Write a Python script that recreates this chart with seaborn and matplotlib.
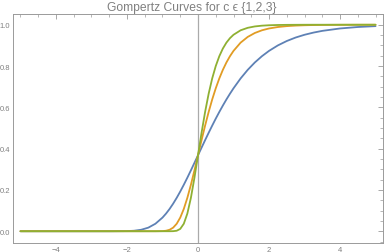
import matplotlib
matplotlib.use("Agg")
import matplotlib.pyplot as plt
from matplotlib.ticker import MultipleLocator, FuncFormatter
import seaborn as sns
import pandas as pd

x_vals = [-5, -4, -3, -2.5, -2, -1.8, -1.6, -1.4, -1.2, -1.0, -0.9, -0.8, -0.7, -0.6,
          -0.5, -0.4, -0.3, -0.2, -0.1, 0, 0.1, 0.2, 0.3, 0.4, 0.5, 0.6, 0.7, 0.8,
          0.9, 1.0, 1.2, 1.4, 1.6, 1.8, 2.0, 2.25, 2.5, 2.75, 3, 3.25, 3.5, 4, 4.5, 5]

y_c1 = [0, 0, 0, 0, 0.0006, 0.0024, 0.0071, 0.0173, 0.0362, 0.0660, 0.0855, 0.1080,
        0.1335, 0.1617, 0.1923, 0.2250, 0.2593, 0.2948, 0.3312, 0.3679, 0.4046, 0.4410,
        0.4767, 0.5115, 0.5453, 0.5776, 0.6086, 0.6381, 0.6659, 0.6922, 0.7400, 0.7815,
        0.8172, 0.8476, 0.8734, 0.9000, 0.9212, 0.9381, 0.9514, 0.9619, 0.9703, 0.9819,
        0.9890, 0.9933]

y_c2 = [0, 0, 0, 0, 0, 0, 0, 0, 0, 0.0006, 0.0024, 0.0071, 0.0173, 0.0362, 0.0660,
        0.1080, 0.1617, 0.2250, 0.2948, 0.3679, 0.4410, 0.5115, 0.5776, 0.6381, 0.6922,
        0.7400, 0.7815, 0.8172, 0.8476, 0.8734, 0.9133, 0.9410, 0.9600, 0.9731, 0.9819,
        0.9890, 0.9933, 0.9959, 0.9975, 0.9985, 0.9991, 0.9997, 0.9999, 1.0]

y_c3 = [0, 0, 0, 0, 0, 0, 0, 0, 0, 0, 0, 0, 0.0003, 0.0024, 0.0113, 0.0362, 0.0855,
        0.1617, 0.2593, 0.3679, 0.4767, 0.5776, 0.6659, 0.7400, 0.8000, 0.8476, 0.8847,
        0.9133, 0.9350, 0.9514, 0.9731, 0.9851, 0.9918, 0.9955, 0.9975, 0.9988, 0.9994,
        0.9997, 0.9999, 1.0, 1.0, 1.0, 1.0, 1.0]

c_labels = ["1", "2", "3"]
colors = ["#5E81B5", "#E19C24", "#8FB032"]

frames = []
for lab, ys in zip(c_labels, [y_c1, y_c2, y_c3]):
    frames.append(pd.DataFrame({"x": x_vals, "y": ys, "c": lab}))
df = pd.concat(frames, ignore_index=True)

sns.set_style("white")
plt.rcParams['font.family'] = ['Liberation Sans', 'DejaVu Sans']

fig = plt.figure(figsize=(3.84, 2.53), dpi=100)
ax = fig.add_axes([13/384, 1 - 244/253, 370/384, 229/253])

gray = "#9a9a9a"
ax.axvline(0, color="#aaaaaa", lw=0.9, zorder=1)

sns.lineplot(data=df, x="x", y="y", hue="c", palette=colors, linewidth=1.3,
             legend=False, ax=ax, zorder=3)

ax.set_xlim(-5.21, 5.21)
ax.set_ylim(-0.057, 1.052)
ax.xaxis.set_major_locator(MultipleLocator(2))
ax.xaxis.set_minor_locator(MultipleLocator(0.5))
ax.yaxis.set_major_locator(MultipleLocator(0.2))
ax.yaxis.set_minor_locator(MultipleLocator(0.05))
ax.xaxis.set_major_formatter(FuncFormatter(lambda v, p: f"{v:.0f}".replace("-", "\u2212")))
ax.yaxis.set_major_formatter(FuncFormatter(lambda v, p: f"{v:.1f}"))

ax.tick_params(which="both", direction="in", top=True, right=True, color=gray,
               labelcolor="#808080", labelsize=5.5, pad=2)
ax.tick_params(which="major", length=3.5, width=0.6)
ax.tick_params(which="minor", length=2, width=0.5)
for s in ax.spines.values():
    s.set_color(gray)
    s.set_linewidth(0.7)

ax.set_xlabel("")
ax.set_ylabel("")
fig.text(0.5, 1 - 7.5/253, "Gompertz Curves for c \u03f5 {1,2,3}", ha="center", va="center",
         color="#808080", fontsize=8.7)

fig.savefig("out.png", dpi=100)
